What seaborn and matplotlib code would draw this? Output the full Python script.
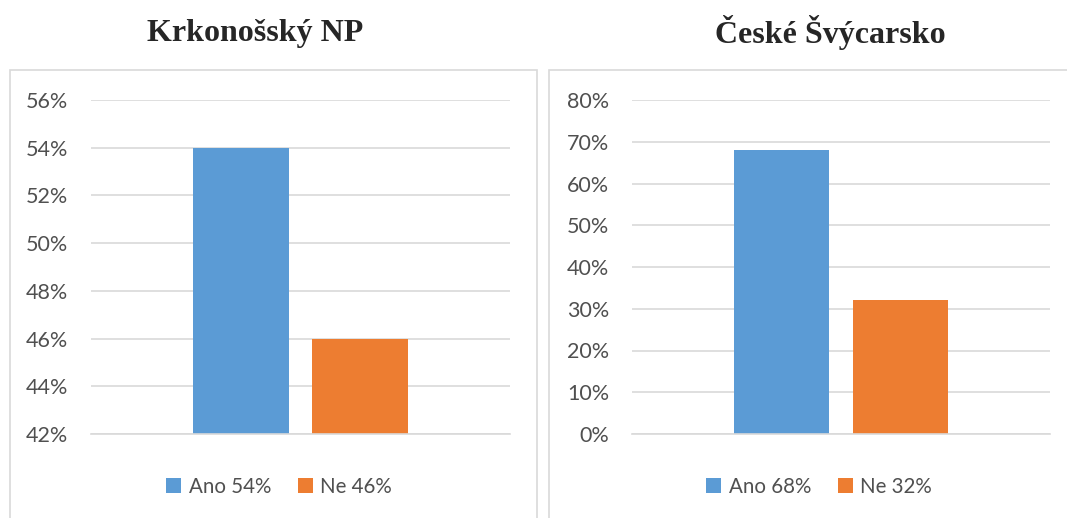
import numpy as np
import pandas as pd
import matplotlib.pyplot as plt
import seaborn as sns
from matplotlib.patches import Rectangle
from matplotlib.ticker import FuncFormatter

# data
titles = ["Krkonošský NP", "České Švýcarsko"]
answers = ["Ano", "Ne"]
krkonose_pct = [54, 46]
svycarsko_pct = [68, 32]
y_limits = [(42, 56, 2), (0, 80, 10)]
colors = ["#5B9BD5", "#ED7D31"]

sns.set_theme(style="white")
plt.rcParams['font.family'] = ['Lato', 'DejaVu Sans']

fig = plt.figure(figsize=(10.67, 5.18), dpi=100)

W, H = 1067, 518
ax_boxes = [(91, 510), (632, 1050)]
frame_boxes = [(10, 537), (549, 1080)]
title_x = [255, 830]
legend_x = [279, 819]
text_col = "#505050"
grid_col = "#D9D9D9"

for i, pct in enumerate([krkonose_pct, svycarsko_pct]):
    # chart area border, like the Excel chart frame
    x0, x1 = frame_boxes[i]
    fig.patches.append(Rectangle((x0 / W, -0.05), (x1 - x0) / W, 1.05 - 70 / H,
                                 transform=fig.transFigure, fill=False,
                                 edgecolor=grid_col, linewidth=1.2))

    left, right = ax_boxes[i]
    ax = fig.add_axes([left / W, 1 - 434 / H, (right - left) / W, 334 / H])

    labels = [f"{a} {v}%" for a, v in zip(answers, pct)]
    df = pd.DataFrame({"group": [""] * len(pct), "answer": labels, "pct": pct})
    sns.barplot(data=df, x="group", y="pct", hue="answer", palette=colors,
                width=0.57, gap=0.2, saturation=1, linewidth=0, ax=ax)

    lo, hi, step = y_limits[i]
    ax.set_ylim(lo, hi)
    ax.set_yticks(np.arange(lo, hi + step, step))
    ax.yaxis.set_major_formatter(FuncFormatter(lambda v, _: f"{v:.0f}%"))
    ax.set_xlim(-0.5, 0.5)
    ax.set_xticks([])
    ax.set_xlabel("")
    ax.set_ylabel("")
    ax.grid(axis="y", color=grid_col, linewidth=1.2)
    ax.set_axisbelow(True)
    for s in ["left", "right", "top"]:
        ax.spines[s].set_visible(False)
    ax.spines["bottom"].set_color(grid_col)
    ax.spines["bottom"].set_linewidth(1.2)
    ax.tick_params(axis="y", length=0, pad=16.5, labelsize=15.5, labelcolor=text_col)

    ax.legend(loc="center", bbox_to_anchor=(legend_x[i] / W, 1 - 487 / H),
              bbox_transform=fig.transFigure, ncol=2, frameon=False,
              fontsize=14.8, labelcolor=text_col, handlelength=0.75,
              handleheight=0.75, handletextpad=0.35, columnspacing=1.3)

    fig.text(title_x[i] / W, 1 - 33 / H, titles[i], ha="center", va="center",
             fontsize=23, fontweight="bold", family=["Liberation Serif", "DejaVu Serif"])

fig.savefig("out.png", dpi=100)
